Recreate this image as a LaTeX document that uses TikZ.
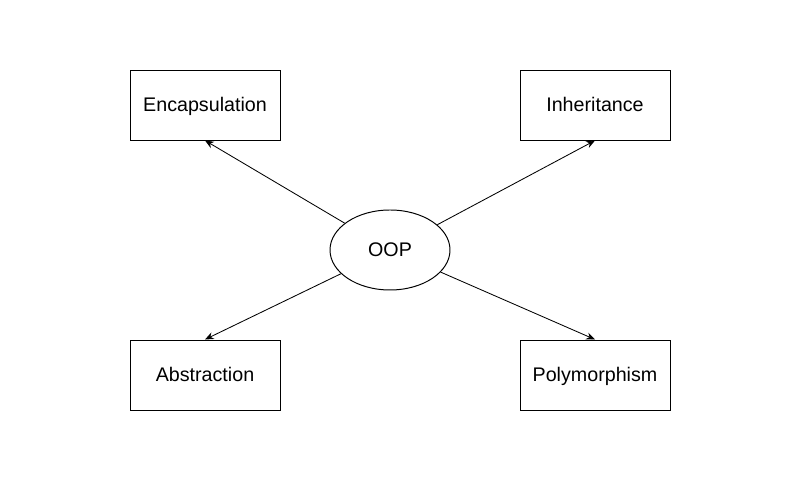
\documentclass[tikz,border=0pt]{standalone}
\usepackage{fontspec}
\setmainfont{Liberation Sans}
\usetikzlibrary{arrows.meta,shapes.geometric}

\begin{document}
\begin{tikzpicture}[
        concept/.style={draw, line width=0.7pt, minimum width=3.75cm, minimum height=1.75cm, inner sep=0pt, text height=1.9ex, text depth=0.2ex},
        link/.style={line width=0.6pt, -{Stealth[length=2.2mm, width=1.8mm]}},
        font=\fontsize{14}{16}\selectfont
    ]
            \useasboundingbox (0, 0) rectangle (20, 12.5);
            \node[draw, ellipse, line width=0.7pt, minimum width=3cm, minimum height=2cm, inner sep=0pt] (oop) at (9.75, 6.25) {OOP};

            \node[concept] (enc) at (5.125, 9.875) {Encapsulation};
            \node[concept] (inh) at (14.875, 9.875) {Inheritance};
            \node[concept] (abs) at (5.125, 3.125) {Abstraction};
            \node[concept] (poly) at (14.875, 3.125) {Polymorphism};

            \draw[link] (oop) -- (enc.south);
            \draw[link] (oop) -- (inh.south);
            \draw[link] (oop) -- (abs.north);
            \draw[link] (oop) -- (poly.north);
        \end{tikzpicture}
\end{document}
